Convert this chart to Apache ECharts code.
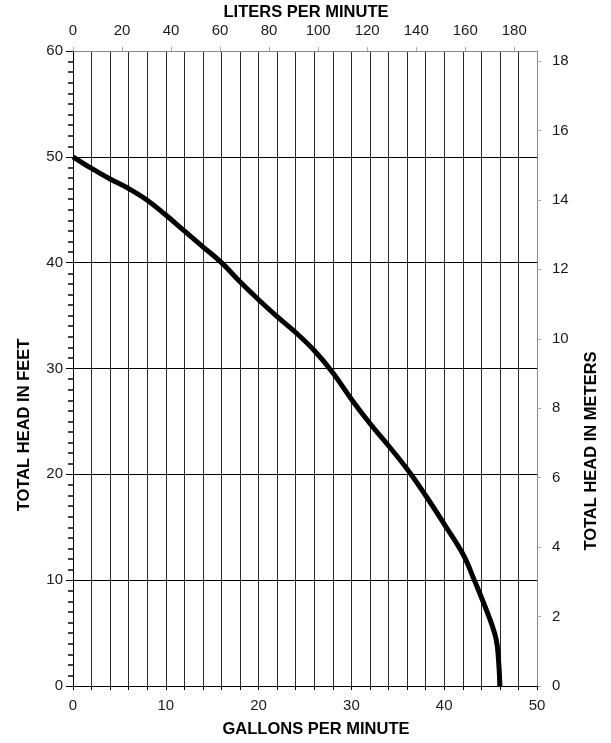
<!DOCTYPE html>
<html>
<head>
<meta charset="utf-8">
<script src="https://cdn.jsdelivr.net/npm/echarts@6/dist/echarts.min.js"></script>
<style>
  html, body { margin: 0; padding: 0; background: #fff; }
  #chart { width: 611px; height: 743px; }
</style>
</head>
<body>
<div id="chart"></div>
<script>
// pump curve
const gpm = [0, 2, 4, 6, 8, 10, 12, 14, 16, 18, 20, 22, 24, 26, 28, 30, 32, 34, 36, 38, 40, 42, 43.2, 44.8, 45.6, 45.85, 46]
const headFt = [50, 48.9, 47.9, 47.0, 45.9, 44.5, 43.0, 41.5, 40.0, 38.2, 36.5, 34.9, 33.4, 31.7, 29.6, 27.1, 24.8, 22.7, 20.5, 18.0, 15.3, 12.5, 10.1, 6.6, 4.4, 2.5, 0]

const gpmMax = 50
const ftMax = 60
const litersPerGallon = 3.78541
const metersPerFoot = 0.3048

const font = 'Liberation Sans, Arial, sans-serif'
const txt = '#1a1a1a'

const chart = echarts.init(document.getElementById('chart'))

chart.setOption({
  backgroundColor: '#fff',
  animation: false,
  grid: { left: 73, right: 74, top: 51, bottom: 57, containLabel: false },
  xAxis: [{
    type: 'value',
    position: 'bottom',
    min: 0,
    max: gpmMax,
    interval: 2,
    axisLine: { onZero: false, lineStyle: { color: '#000', width: 1 } },
    axisTick: { show: true, length: 4, lineStyle: { color: '#000' } },
    axisLabel: {
      color: txt, fontFamily: font, fontSize: 15, margin: 12,
      formatter: v => (v % 10 === 0 ? String(v) : '')
    },
    splitLine: { show: true, lineStyle: { color: '#2a2a2a', width: 1 } }
  }, {
    type: 'value',
    position: 'top',
    min: 0,
    max: gpmMax * litersPerGallon,
    interval: 20,
    axisLine: { show: true, onZero: false, lineStyle: { color: '#8a8a8a', width: 1 } },
    axisTick: { show: true, length: 4, lineStyle: { color: '#aaa' } },
    axisLabel: {
      color: txt, fontFamily: font, fontSize: 15, margin: 13,
      showMaxLabel: false,
      formatter: v => (v % 20 === 0 ? String(v) : '')
    },
    splitLine: { show: false }
  }],
  yAxis: [{
    type: 'value',
    position: 'left',
    min: 0,
    max: ftMax,
    interval: 10,
    axisLine: { show: true, onZero: false, lineStyle: { color: '#000', width: 1 } },
    axisTick: { show: true, length: 7, lineStyle: { color: '#000', width: 1 } },
    // one-foot ticks
    minorTick: { show: true, splitNumber: 10, length: 5, lineStyle: { color: '#444', width: 2 } },
    axisLabel: { color: txt, fontFamily: font, fontSize: 15, margin: 10 },
    splitLine: { show: true, lineStyle: { color: '#000', width: 1 } }
  }, {
    type: 'value',
    position: 'right',
    min: 0,
    max: ftMax * metersPerFoot,
    interval: 2,
    axisLine: { show: true, onZero: false, lineStyle: { color: '#8a8a8a', width: 1 } },
    axisTick: { show: true, length: 4, lineStyle: { color: '#aaa' } },
    axisLabel: {
      color: txt, fontFamily: font, fontSize: 15, margin: 15,
      showMaxLabel: false,
      formatter: v => (v % 2 === 0 ? String(v) : '')
    },
    splitLine: { show: false }
  }],
  graphic: [{
    type: 'text', x: 306, y: 12,
    style: { text: 'LITERS PER MINUTE', font: 'bold 16.5px ' + font, fill: '#000', align: 'center', verticalAlign: 'middle' }
  }, {
    type: 'text', x: 316, y: 729,
    style: { text: 'GALLONS PER MINUTE', font: 'bold 16.5px ' + font, fill: '#000', align: 'center', verticalAlign: 'middle' }
  }, {
    type: 'text', x: 24, y: 425, rotation: Math.PI / 2,
    style: { text: 'TOTAL HEAD IN FEET', font: 'bold 16.5px ' + font, fill: '#000', align: 'center', verticalAlign: 'middle' }
  }, {
    type: 'text', x: 591, y: 451, rotation: Math.PI / 2,
    style: { text: 'TOTAL HEAD IN METERS', font: 'bold 16.5px ' + font, fill: '#000', align: 'center', verticalAlign: 'middle' }
  }],
  series: [{
    type: 'line',
    xAxisIndex: 0,
    yAxisIndex: 0,
    smooth: 0.4,
    symbol: 'none',
    lineStyle: { color: '#000', width: 5 },
    data: gpm.map((g, i) => [g, headFt[i]])
  }]
})
</script>
</body>
</html>
